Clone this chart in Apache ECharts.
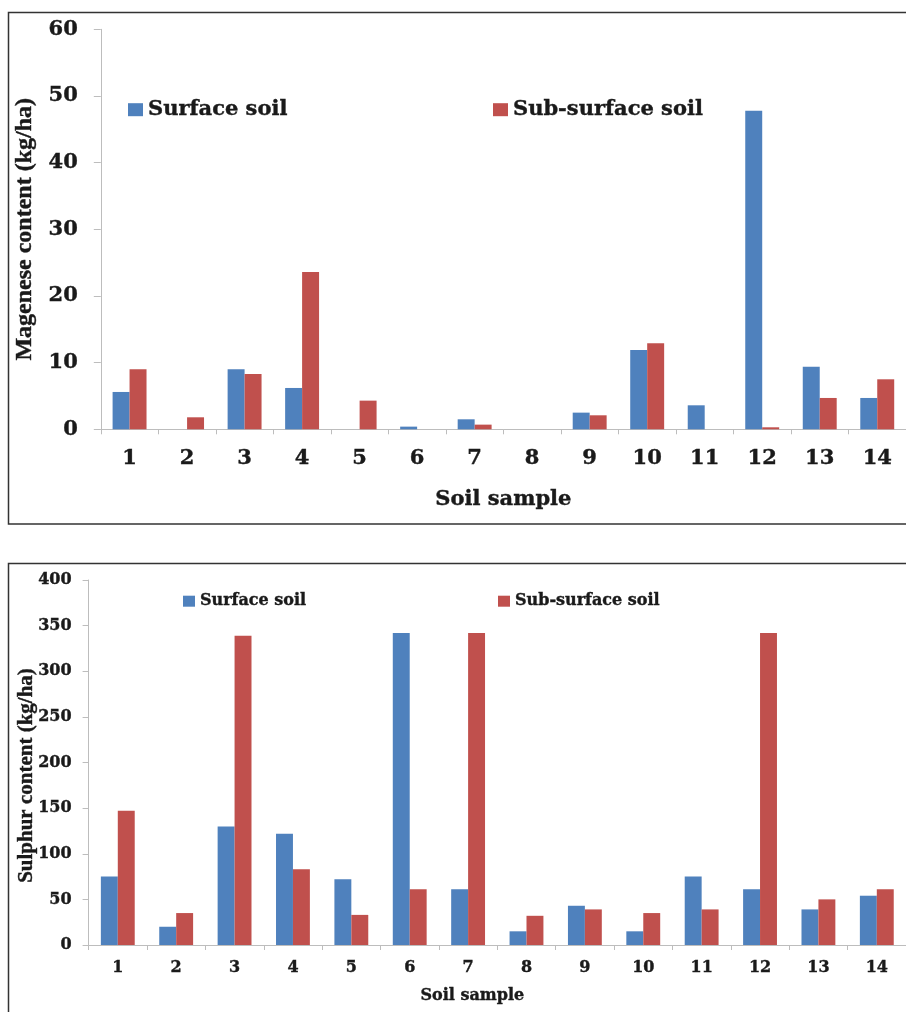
<!DOCTYPE html>
<html>
<head>
<meta charset="utf-8">
<script src="https://cdn.jsdelivr.net/npm/echarts@6/dist/echarts.min.js"></script>
<style>
html,body{margin:0;padding:0;background:#fff;}
#c{width:906px;height:1012px;}
</style>
</head>
<body>
<div id="c"></div>
<script>
var categories = ['1','2','3','4','5','6','7','8','9','10','11','12','13','14'];
var mnSurface    = [5.6, 0, 9.0, 6.2, 0, 0.4, 1.5, 0, 2.5, 11.9, 3.6, 47.8, 9.4, 4.7];
var mnSubsurface = [9.0, 1.8, 8.3, 23.6, 4.3, 0, 0.7, 0, 2.1, 12.9, 0, 0.3, 4.7, 7.5];
var sSurface     = [75, 20, 130, 122, 72, 342, 61, 15, 43, 15, 75, 61, 39, 54];
var sSubsurface  = [147, 35, 339, 83, 33, 61, 342, 32, 39, 35, 39, 342, 50, 61];
var seriesNames = ['Surface soil', 'Sub-surface soil'];
var colors = ['#4F81BD', '#C0504D'];

var txt = '#1a1a1a';
var axisGray = '#bdbdbd';
var hFont = 'DejaVu Serif';
var vFont = 'Liberation Serif';

function bold(size, fam) {
  return {fontFamily: fam || hFont, fontWeight: 'bold', fontSize: size, color: txt,
          textBorderColor: txt, textBorderWidth: 0.4};
}

var chart = echarts.init(document.getElementById('c'), null, {renderer: 'canvas'});

function legend(name, left, top, size) {
  return {
    data: [name], left: left, top: top, icon: 'rect', padding: 0,
    itemWidth: size === 21 ? 15 : 12, itemHeight: size === 21 ? 13 : 11, itemGap: 6,
    textStyle: bold(size),
    selectedMode: false
  };
}

chart.setOption({
  animation: false,
  backgroundColor: '#fff',
  color: colors,
  graphic: [
    {type: 'rect', shape: {x: 8.5, y: 12.5, width: 920, height: 511.5}, style: {fill: 'none', stroke: '#333', lineWidth: 1.5}, silent: true},
    {type: 'rect', shape: {x: 8.5, y: 563.5, width: 920, height: 500}, style: {fill: 'none', stroke: '#333', lineWidth: 1.5}, silent: true}
  ],
  legend: [
    legend(seriesNames[0], 128, 99, 21),
    legend(seriesNames[1], 493, 99, 21),
    legend(seriesNames[0], 183, 593, 16),
    legend(seriesNames[1], 498, 593, 16)
  ],
  grid: [
    {left: 100.8, right: -13, top: 29.3, bottom: 1012 - 429.3},
    {left: 88.6, right: -6.3, top: 580, bottom: 1012 - 945}
  ],
  xAxis: [
    {
      type: 'category', gridIndex: 0, data: categories,
      name: 'Soil sample', nameLocation: 'middle', nameGap: 60, nameMoveOverlap: false,
      nameTextStyle: bold(21),
      axisLine: {lineStyle: {color: axisGray, width: 1}},
      axisTick: {show: true, length: 5, lineStyle: {color: axisGray}},
      axisLabel: Object.assign(bold(21), {margin: 19, interval: 0})
    },
    {
      type: 'category', gridIndex: 1, data: categories,
      name: 'Soil sample', nameLocation: 'middle', nameGap: 43, nameMoveOverlap: false,
      nameTextStyle: Object.assign(bold(16), {padding: [0, 50, 0, 0]}),
      axisLine: {lineStyle: {color: axisGray, width: 1}},
      axisTick: {show: true, length: 5, lineStyle: {color: axisGray}},
      axisLabel: Object.assign(bold(16), {margin: 15, interval: 0})
    }
  ],
  yAxis: [
    {
      type: 'value', gridIndex: 0, min: 0, max: 60, interval: 10,
      name: 'Magenese content (kg/ha)', nameLocation: 'middle', nameGap: 64, nameRotate: 90, nameMoveOverlap: false,
      nameTextStyle: bold(24, vFont),
      axisLine: {show: true, lineStyle: {color: axisGray, width: 1}},
      axisTick: {show: true, length: 7, lineStyle: {color: axisGray}},
      splitLine: {show: false},
      axisLabel: Object.assign(bold(21), {margin: 23})
    },
    {
      type: 'value', gridIndex: 1, min: 0, max: 400, interval: 50,
      name: 'Sulphur content (kg/ha)', nameLocation: 'middle', nameGap: 52, nameRotate: 90, nameMoveOverlap: false,
      nameTextStyle: Object.assign(bold(21, vFont), {padding: [0, 26, 0, 0]}),
      axisLine: {show: true, lineStyle: {color: axisGray, width: 1}},
      axisTick: {show: true, length: 6, lineStyle: {color: axisGray}},
      splitLine: {show: false},
      axisLabel: Object.assign(bold(16), {margin: 17})
    }
  ],
  series: [
    {name: seriesNames[0], type: 'bar', xAxisIndex: 0, yAxisIndex: 0, data: mnSurface, barGap: 0, barCategoryGap: '41%', itemStyle: {color: colors[0]}},
    {name: seriesNames[1], type: 'bar', xAxisIndex: 0, yAxisIndex: 0, data: mnSubsurface, barGap: 0, barCategoryGap: '41%', itemStyle: {color: colors[1]}},
    {name: seriesNames[0], type: 'bar', xAxisIndex: 1, yAxisIndex: 1, data: sSurface, barGap: 0, barCategoryGap: '42%', itemStyle: {color: colors[0]}},
    {name: seriesNames[1], type: 'bar', xAxisIndex: 1, yAxisIndex: 1, data: sSubsurface, barGap: 0, barCategoryGap: '42%', itemStyle: {color: colors[1]}}
  ]
});
</script>
</body>
</html>
